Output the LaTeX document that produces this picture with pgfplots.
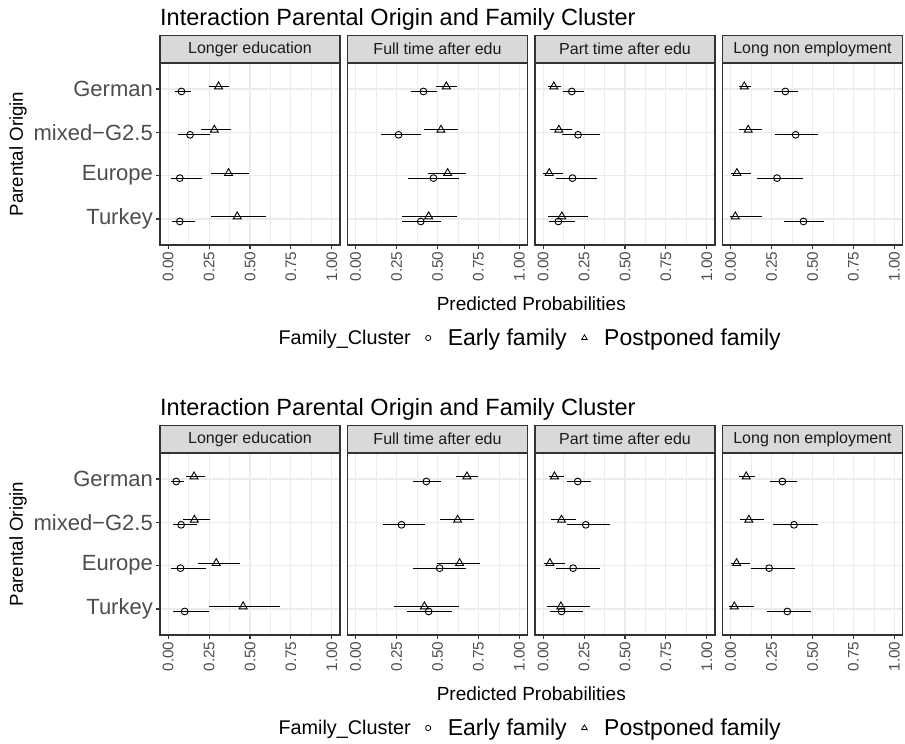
\documentclass[border=0pt]{standalone}
\usepackage{fontspec}
\setmainfont{Liberation Sans}
\usepackage{pgfplots}
\usepackage{pgfplotstable}
\pgfplotsset{compat=1.18}
\definecolor{grey10}{HTML}{1A1A1A}
\definecolor{grey20}{HTML}{333333}
\definecolor{grey30}{HTML}{4D4D4D}
\definecolor{grey85}{HTML}{D9D9D9}
\definecolor{grey92}{HTML}{EBEBEB}

% y: 4=German 3=mixed-G2.5 2=Europe 1=Turkey
% ex/elo/ehi: Early family; px/plo/phi: Postponed family
\pgfplotstableread{
y ex elo ehi px plo phi
4 0.081 0.051 0.130 0.308 0.260 0.361
3 0.134 0.069 0.245 0.282 0.207 0.375
2 0.071 0.026 0.195 0.369 0.272 0.483
1 0.071 0.032 0.154 0.422 0.272 0.588
}\tAa
\pgfplotstableread{
y ex elo ehi px plo phi
4 0.414 0.345 0.485 0.554 0.497 0.611
3 0.262 0.166 0.389 0.521 0.428 0.615
2 0.475 0.331 0.623 0.562 0.452 0.667
1 0.398 0.294 0.515 0.446 0.290 0.613
}\tAb
\pgfplotstableread{
y ex elo ehi px plo phi
4 0.175 0.128 0.238 0.065 0.041 0.102
3 0.213 0.126 0.337 0.096 0.053 0.169
2 0.179 0.089 0.321 0.037 0.010 0.110
1 0.093 0.047 0.185 0.114 0.041 0.266
}\tAc
\pgfplotstableread{
y ex elo ehi px plo phi
4 0.334 0.273 0.405 0.083 0.061 0.117
3 0.397 0.281 0.526 0.107 0.063 0.182
2 0.283 0.170 0.433 0.038 0.014 0.113
1 0.445 0.338 0.563 0.028 0.006 0.180
}\tAd
\pgfplotstableread{
y ex elo ehi px plo phi
4 0.049 0.028 0.087 0.158 0.118 0.213
3 0.079 0.037 0.166 0.160 0.101 0.245
2 0.075 0.024 0.221 0.294 0.189 0.428
1 0.101 0.039 0.243 0.458 0.258 0.673
}\tBa
\pgfplotstableread{
y ex elo ehi px plo phi
4 0.432 0.357 0.511 0.680 0.621 0.738
3 0.280 0.178 0.414 0.623 0.523 0.716
2 0.513 0.361 0.667 0.635 0.505 0.753
1 0.446 0.323 0.582 0.420 0.241 0.625
}\tBb
\pgfplotstableread{
y ex elo ehi px plo phi
4 0.211 0.152 0.285 0.069 0.045 0.116
3 0.260 0.157 0.400 0.112 0.059 0.193
2 0.183 0.087 0.339 0.041 0.012 0.126
1 0.112 0.049 0.232 0.108 0.035 0.276
}\tBc
\pgfplotstableread{
y ex elo ehi px plo phi
4 0.316 0.247 0.395 0.095 0.063 0.140
3 0.387 0.265 0.526 0.111 0.065 0.194
2 0.235 0.132 0.383 0.036 0.010 0.111
1 0.346 0.231 0.482 0.022 0.000 0.136
}\tBd

\pgfplotsset{
 panel/.style={
  scale only axis, width=180pt, height=182pt,
  anchor=north west,
  xmin=-0.05, xmax=1.05, ymin=0.4, ymax=4.6,
  axis line style={draw=grey20, line width=1.1pt},
  xtick={0,0.25,0.5,0.75,1},
  xticklabels={0.00,0.25,0.50,0.75,1.00},
  minor xtick={0.125,0.375,0.625,0.875},
  ytick={1,2,3,4},
  yticklabels={},
  grid=both,
  major grid style={draw=grey92, line width=1.1pt},
  minor grid style={draw=grey92, line width=0.55pt},
  tick align=outside, major tick length=4pt, minor tick length=0pt,
  xtick pos=lower, ytick pos=left,
  tick style={draw=grey20, line width=1.1pt},
  ytick style={draw=none},
  x tick label style={rotate=90, anchor=east, font=\fontsize{15.3}{15.3}\selectfont, text=grey30, inner sep=2.5pt},
  every axis title shift=0pt,
  title style={at={(0.5,1)}, anchor=south, fill=grey85, draw=grey20, line width=1.1pt,
    minimum width=180pt, minimum height=27pt, inner sep=0pt,
    font=\fontsize{16}{16}\selectfont, text=grey10},
  clip=false,
 },
 early/.style={forget plot, only marks, mark=o, black, mark size=3.4pt,
  mark options={line width=0.9pt},
  error bars/.cd, x dir=both, x explicit,
  error bar style={line width=1.2pt, black},
  error mark options={line width=1.1pt, mark size=1.5pt, black}},
 post/.style={forget plot, only marks, mark=triangle, black, mark size=4.6pt,
  mark options={line width=0.9pt},
  error bars/.cd, x dir=both, x explicit,
  error bar style={line width=1.2pt, black},
  error mark options={line width=1.1pt, mark size=1.5pt, black}},
}

\newcommand{\panel}[6]{%
\begin{axis}[panel, at={(#1pt,#2pt)}, title={#3}, #5]
\addplot[early] table[x=ex, y expr=\thisrow{y}-0.057,
  x error plus expr=\thisrow{ehi}-\thisrow{ex},
  x error minus expr=\thisrow{ex}-\thisrow{elo}] {#4};
\addplot[post] table[x=px, y expr=\thisrow{y}+0.057,
  x error plus expr=\thisrow{phi}-\thisrow{px},
  x error minus expr=\thisrow{px}-\thisrow{plo}] {#4};
#6
\end{axis}}

\pgfplotsset{
 firstpanel/.style={
  yticklabels={Turkey,Europe,mixed−G2.5,German},
  ytick style={draw=grey20, line width=1.1pt},
  y tick label style={font=\fontsize{22}{22}\selectfont, text=grey30, inner sep=3pt},
  ylabel={Parental Origin},
  ylabel style={at={(axis description cs:-0.789,0.5)}, anchor=center, font=\fontsize{18.7}{18.7}\selectfont},
 },
 secondpanel/.style={
  xlabel={Predicted Probabilities},
  xlabel style={at={(axis description cs:1.021,-0.324)}, anchor=center, font=\fontsize{19}{19}\selectfont},
  legend style={at={(axis description cs:-0.495,-0.511)}, anchor=west, draw=none, fill=none,
    legend columns=3, font=\fontsize{23}{23}\selectfont,
    /tikz/every odd column/.append style={column sep=15pt},
    /tikz/every even column/.append style={column sep=13pt},
    /tikz/column 2/.append style={column sep=18pt}},
 },
}
\newcommand{\legendstuff}{%
\addlegendimage{empty legend}
\addlegendentry{\fontsize{19.8}{19.8}\selectfont Family\_Cluster}
\addlegendimage{only marks, mark=o, black, mark size=2.6pt, mark options={line width=0.8pt}}
\addlegendentry{Early family}
\addlegendimage{only marks, mark=triangle, black, mark size=3.2pt, mark options={line width=0.8pt}}
\addlegendentry{Postponed family}
}

\begin{document}
\begin{tikzpicture}
\useasboundingbox (0pt,0pt) rectangle (905pt,-744pt);
% top figure
\panel{160}{-63}{Longer education}{\tAa}{name=a1, firstpanel}{}
\panel{347.5}{-63}{Full time after edu}{\tAb}{secondpanel}{\legendstuff}
\panel{535}{-63}{Part time after edu}{\tAc}{}{}
\panel{722.5}{-63}{Long non employment}{\tAd}{}{}
\node[anchor=base west, inner sep=0pt, font=\fontsize{23.5}{23.5}\selectfont] at ([yshift=38pt]a1.north west) {Interaction Parental Origin and Family Cluster};
% bottom figure
\panel{160}{-453}{Longer education}{\tBa}{name=b1, firstpanel}{}
\panel{347.5}{-453}{Full time after edu}{\tBb}{secondpanel}{\legendstuff}
\panel{535}{-453}{Part time after edu}{\tBc}{}{}
\panel{722.5}{-453}{Long non employment}{\tBd}{}{}
\node[anchor=base west, inner sep=0pt, font=\fontsize{23.5}{23.5}\selectfont] at ([yshift=38pt]b1.north west) {Interaction Parental Origin and Family Cluster};
\end{tikzpicture}
\end{document}
